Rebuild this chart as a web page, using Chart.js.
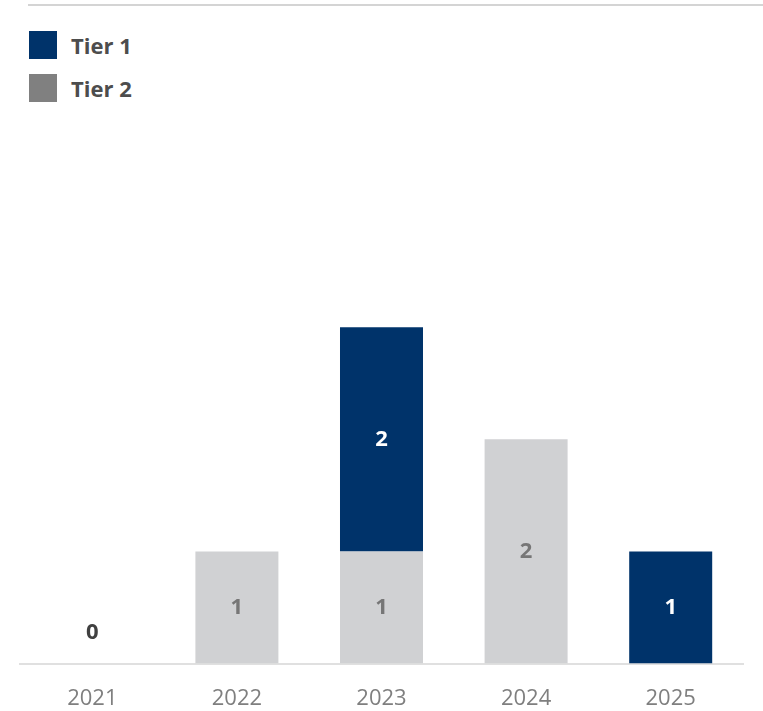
<!DOCTYPE html>
<html>
<head>
<meta charset="utf-8">
<script src="https://cdn.jsdelivr.net/npm/chart.js@4.4.1/dist/chart.umd.min.js"></script>
<style>
    html, body { margin: 0; padding: 0; background: #fff; }
    #wrap { position: relative; width: 763px; height: 711px; font-family: "Open Sans", sans-serif; }
    #topRule { position: absolute; left: 28px; right: 0; top: 4px; height: 2px; background: #d4d4d4; }
    #legend { position: absolute; left: 29px; top: 31px; }
    .legend-item { display: flex; align-items: center; height: 28px; margin-bottom: 15px; }
    .legend-box { width: 28px; height: 28px; margin-right: 14px; }
    .legend-text { font-weight: 700; font-size: 22px; color: #4d4d4d; }
    canvas { position: absolute; left: 0; top: 0; }
</style>
</head>
<body>
<div id="wrap">
    <div id="topRule"></div>
    <div id="legend"></div>
    <canvas id="tierChart" width="763" height="711"></canvas>
</div>
<script>
const years = ['2021', '2022', '2023', '2024', '2025'];
const tier1 = [0, 0, 2, 0, 1];
const tier2 = [0, 1, 1, 2, 0];

const navy = '#00336a';
const lightGrey = '#d0d1d3';
const legendGrey = '#808080';

// value labels in the middle of each segment, plus a "0" over empty stacks
const segmentLabels = {
    id: 'segmentLabels',
    afterDatasetsDraw(chart) {
        const ctx = chart.ctx;
        ctx.save();
        ctx.font = 'bold 22px "Open Sans", sans-serif';
        ctx.textAlign = 'center';
        ctx.textBaseline = 'middle';
        chart.data.datasets.forEach((ds, i) => {
            const meta = chart.getDatasetMeta(i);
            meta.data.forEach((bar, j) => {
                const v = ds.data[j];
                if (!v) return;
                ctx.fillStyle = ds.labelColor;
                ctx.fillText(String(v), bar.x, (bar.y + bar.base) / 2);
            });
        });
        const yScale = chart.scales.y;
        years.forEach((year, j) => {
            const total = tier1[j] + tier2[j];
            if (total !== 0) return;
            const x = chart.getDatasetMeta(0).data[j].x;
            ctx.fillStyle = '#404040';
            ctx.fillText('0', x, yScale.getPixelForValue(0) - 31);
        });
        ctx.restore();
    }
};

// Tier 2 sits at the bottom of each stack
const chart = new Chart(document.getElementById('tierChart'), {
    type: 'bar',
    data: {
        labels: years,
        datasets: [
            {
                label: 'Tier 1',
                data: tier1,
                backgroundColor: navy,
                legendColor: navy,
                labelColor: '#ffffff',
                order: 2
            },
            {
                label: 'Tier 2',
                data: tier2,
                backgroundColor: lightGrey,
                legendColor: legendGrey,
                labelColor: '#767676',
                order: 1
            }
        ]
    },
    options: {
        responsive: false,
        animation: false,
        layout: { padding: { top: 215, left: 20, right: 20, bottom: -23 } },
        datasets: {
            bar: { categoryPercentage: 1, barPercentage: 0.574 }
        },
        plugins: {
            legend: { display: false },
            tooltip: { enabled: false }
        },
        scales: {
            x: {
                stacked: true,
                grid: { display: false, drawTicks: false },
                border: { display: true, color: '#e0e0e0', width: 2 },
                ticks: {
                    padding: 22,
                    color: '#7f7f7f',
                    font: { family: '"Open Sans", sans-serif', size: 22 }
                }
            },
            y: {
                stacked: true,
                display: false,
                min: 0,
                max: 4
            }
        }
    },
    plugins: [segmentLabels]
});

// legend built from the datasets, stacked vertically
const legendEl = document.getElementById('legend');
chart.data.datasets.forEach(ds => {
    const item = document.createElement('div');
    item.className = 'legend-item';
    const box = document.createElement('div');
    box.className = 'legend-box';
    box.style.background = ds.legendColor;
    const text = document.createElement('span');
    text.className = 'legend-text';
    text.textContent = ds.label;
    item.appendChild(box);
    item.appendChild(text);
    legendEl.appendChild(item);
});
</script>
</body>
</html>
